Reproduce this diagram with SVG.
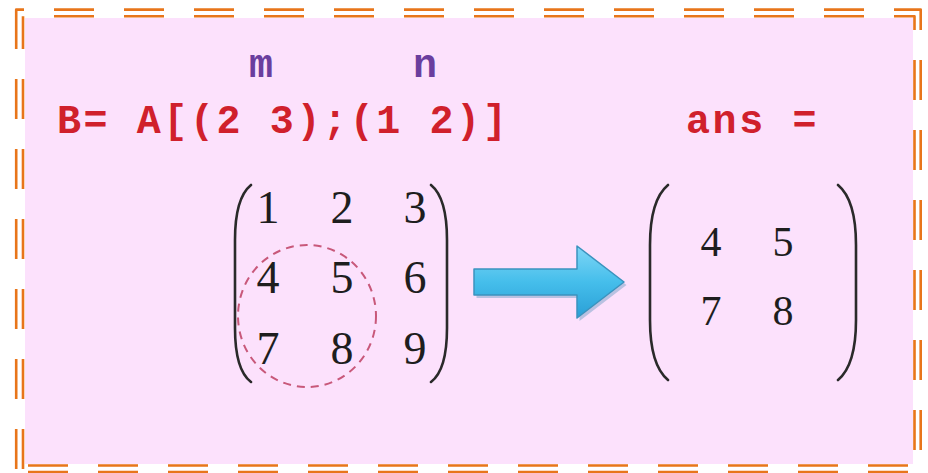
<svg xmlns="http://www.w3.org/2000/svg" width="928" height="473" viewBox="0 0 928 473">
  <style>
    .bd { stroke: #E8751A; stroke-width: 2.6; fill: none; stroke-linejoin: round; }
    .code { font-family: "Liberation Mono", "Courier New", monospace; font-weight: bold; font-size: 40px; letter-spacing: 2.6px; fill: #D0202C; }
    .var { font-family: "Liberation Mono", "Courier New", monospace; font-weight: bold; font-size: 40px; fill: #6A3E9E; text-anchor: middle; }
    .num { font-family: "Liberation Serif", "Times New Roman", serif; font-size: 46px; fill: #1E1E1E; text-anchor: middle; }
    .num2 { font-family: "Liberation Serif", "Times New Roman", serif; font-size: 42px; fill: #1E1E1E; text-anchor: middle; }
    .par { stroke: #2A2A2A; stroke-width: 2.6; fill: none; stroke-linecap: round; }
  </style>
  <defs>
    <linearGradient id="ag" x1="0" y1="0" x2="0" y2="1">
      <stop offset="0" stop-color="#7FD6F6"/>
      <stop offset="0.5" stop-color="#45BEEB"/>
      <stop offset="1" stop-color="#2A9FD6"/>
    </linearGradient>
  </defs>
  <rect x="0" y="0" width="928" height="473" fill="#FFFFFF"/>
  <rect x="25" y="18" width="888" height="446" fill="#FCE1FC"/>
  <g id="border">
    <path class="bd" d="M16.2 49V9.6H24 M54 9.6H94 M124 9.6H164 M194 9.6H234 M264 9.6H304 M334 9.6H374 M404 9.6H444 M474 9.6H514 M544 9.6H584 M614 9.6H654 M684 9.6H724 M754 9.6H794 M824 9.6H864 M894 9.6H920.7V30"/>
    <path class="bd" d="M23 49V16.3 M54 16.3H94 M124 16.3H164 M194 16.3H234 M264 16.3H304 M334 16.3H374 M404 16.3H444 M474 16.3H514 M544 16.3H584 M614 16.3H654 M684 16.3H724 M754 16.3H794 M824 16.3H864 M894 16.3H914.5V30"/>
    <path class="bd" d="M16.2 79V119 M16.2 149V189 M16.2 219V259 M16.2 289V329 M16.2 359V399 M16.2 429V469"/>
    <path class="bd" d="M23 79V119 M23 149V189 M23 219V259 M23 289V329 M23 359V399 M23 429V469"/>
    <path class="bd" d="M920.7 60V100 M920.7 130V170 M920.7 200V240 M920.7 270V310 M920.7 340V380 M920.7 410V450"/>
    <path class="bd" d="M914.5 60V100 M914.5 130V170 M914.5 200V240 M914.5 270V310 M914.5 340V380 M914.5 410V450"/>
    <path class="bd" d="M28 472H68 M98 472H138 M168 472H208 M238 472H278 M308 472H348 M378 472H418 M448 472H488 M518 472H558 M588 472H628 M658 472H698 M728 472H768 M798 472H838 M868 472H908"/>
    <path class="bd" d="M28 465.5H68 M98 465.5H138 M168 465.5H208 M238 465.5H278 M308 465.5H348 M378 465.5H418 M448 465.5H488 M518 465.5H558 M588 465.5H628 M658 465.5H698 M728 465.5H768 M798 465.5H838 M868 465.5H908"/>
  </g>
  <g id="formula">
    <text class="var" x="261" y="77">m</text>
    <text class="var" x="425" y="77">n</text>
    <text class="code" x="57" y="133">B= A[(2  3);(1  2)]</text>
  </g>
  <g id="ans-label">
    <text class="code" x="686" y="133">ans =</text>
  </g>
  <g id="matrix-A">
    <path class="par" d="M251,185 Q235,198 235,240 L235,328 Q235,370 251,382"/>
    <path class="par" d="M431,185 Q447,198 447,240 L447,328 Q447,370 431,382"/>
    <text class="num" x="268" y="223">1</text>
    <text class="num" x="342" y="223">2</text>
    <text class="num" x="415" y="223">3</text>
    <text class="num" x="268" y="293">4</text>
    <text class="num" x="342" y="293">5</text>
    <text class="num" x="415" y="293">6</text>
    <text class="num" x="268" y="364">7</text>
    <text class="num" x="342" y="364">8</text>
    <text class="num" x="415" y="364">9</text>
    <ellipse cx="307" cy="316" rx="69" ry="71" fill="none" stroke="#C8587A" stroke-width="2" stroke-dasharray="8 6"/>
  </g>
  <g id="matrix-ans">
    <path class="par" d="M668,185 Q650,200 650,245 L650,320 Q650,365 668,380"/>
    <path class="par" d="M838,185 Q856,200 856,245 L856,320 Q856,365 838,380"/>
    <text class="num2" x="711" y="256">4</text>
    <text class="num2" x="783" y="256">5</text>
    <text class="num2" x="711" y="325">7</text>
    <text class="num2" x="783" y="325">8</text>
  </g>
  <g id="connectors">
    <path d="M475,270 L578,270 L578,247 L625,283 L578,319 L578,296 L475,296 Z" fill="#3C88AE" opacity="0.35" transform="translate(1.5,2)"/>
    <path d="M474,269 L577,269 L577,246 L624,282 L577,318 L577,295 L474,295 Z" fill="url(#ag)" stroke="#3B93BE" stroke-width="1.5" stroke-linejoin="round"/>
  </g>
</svg>
